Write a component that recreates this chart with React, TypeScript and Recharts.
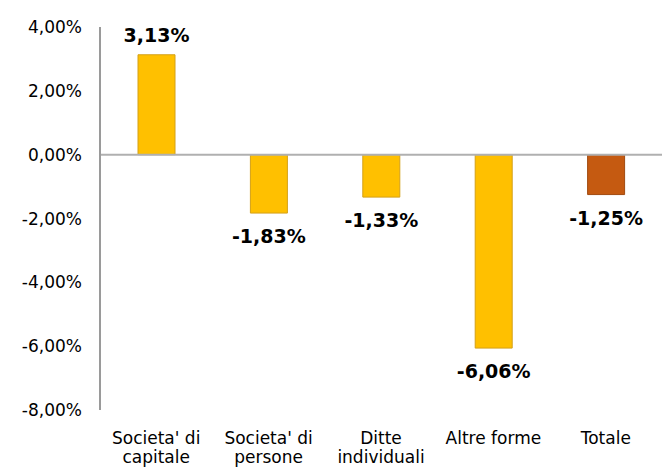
import React from "react"
import { BarChart, Bar, XAxis, YAxis, Cell, LabelList, ReferenceLine } from "recharts"

const categorie = ["Societa' di\ncapitale", "Societa' di\npersone", "Ditte\nindividuali", "Altre forme", "Totale"]
const variazioni = [3.13, -1.83, -1.33, -6.06, -1.25]
const coloriBarre = ["#FFC000", "#FFC000", "#FFC000", "#FFC000", "#C55A11"]
const bordiBarre = ["#D4A017", "#D4A017", "#D4A017", "#D4A017", "#A04A10"]
const tickY = [4, 2, 0, -2, -4, -6, -8]

const dati = categorie.map((name, i) => ({ name, value: variazioni[i] }))

const fmt = (v: number) => v.toFixed(2).replace(".", ",") + "%"
const FONT = "'DejaVu Sans', Verdana, sans-serif"

const TickX = (props: any) => {
  const { x, y, payload } = props
  const righe = String(payload.value).split("\n")
  return (
    <text x={x} y={y} textAnchor="middle" fontFamily={FONT} fontSize={17} fill="#000">
      {righe.map((r, i) => (
        <tspan key={i} x={x} dy={i === 0 ? 26 : 19}>{r}</tspan>
      ))}
    </text>
  )
}

const EtichettaValore = (props: any) => {
  const { x, y, width, height, value } = props
  const cx = x + width / 2
  const fine = value >= 0 ? Math.min(y, y + height) : Math.max(y, y + height)
  const ty = value >= 0 ? fine - 13 : fine + 30
  return (
    <text x={cx} y={ty} textAnchor="middle" fontFamily={FONT} fontSize={19} fontWeight="bold" fill="#000">
      {fmt(value)}
    </text>
  )
}

export default function App() {
  return (
    <div style={{ position: "absolute", left: 0, top: 0, background: "#fff" }}>
      <BarChart width={662} height={467} data={dati} margin={{ top: 27, right: 0, left: 0, bottom: 0 }} barSize={37}>
        <XAxis
          dataKey="name"
          axisLine={false}
          tickLine={false}
          height={57}
          interval={0}
          tick={<TickX />}
        />
        <YAxis
          width={100}
          domain={[-8, 4]}
          ticks={tickY}
          tickFormatter={fmt}
          axisLine={{ stroke: "#9a9a9a", strokeWidth: 2 }}
          tickLine={false}
          tickMargin={12}
          tick={{ fontFamily: FONT, fontSize: 17, fill: "#000" }}
        />
        <ReferenceLine y={0} stroke="#b0b0b0" strokeWidth={2} />
        <Bar dataKey="value" isAnimationActive={false}>
          {dati.map((_, i) => (
            <Cell key={`c-${i}`} fill={coloriBarre[i]} stroke={bordiBarre[i]} strokeWidth={1} />
          ))}
          <LabelList dataKey="value" content={<EtichettaValore />} />
        </Bar>
      </BarChart>
    </div>
  )
}
